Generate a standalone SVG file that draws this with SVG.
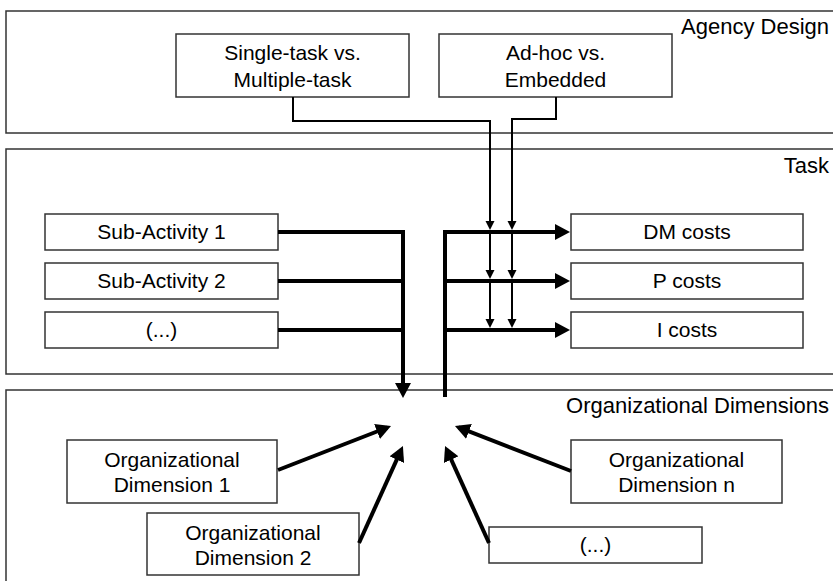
<svg xmlns="http://www.w3.org/2000/svg" width="833" height="581" viewBox="0 0 833 581">
<style>
  .lane { fill: #fff; stroke: #333; stroke-width: 1.5; }
  .box { fill: #fff; stroke: #333; stroke-width: 1.5; }
  .lbl { font-family: "Liberation Sans", Arial, sans-serif; font-size: 21px; fill: #000; text-anchor: middle; }
  .lanelbl { font-family: "Liberation Sans", Arial, sans-serif; font-size: 22px; fill: #000; text-anchor: end; }
  .thick { fill: none; stroke: #000; stroke-width: 4; stroke-linejoin: miter; }
  .thin { fill: none; stroke: #000; stroke-width: 2; stroke-linejoin: miter; }
</style>
<defs>
  <marker id="ah" markerUnits="userSpaceOnUse" markerWidth="16" markerHeight="16" refX="11" refY="8" orient="auto">
    <path d="M0,0 L15,8 L0,16 z" fill="#000"/>
  </marker>
  <marker id="ahs" markerUnits="userSpaceOnUse" markerWidth="10" markerHeight="10" refX="7" refY="4.5" orient="auto">
    <path d="M0,0 L9,4.5 L0,9 z" fill="#000"/>
  </marker>
</defs>
<rect width="833" height="581" fill="#fff"/>

<g id="lane-agency">
  <rect class="lane" x="6" y="11" width="840" height="122"/>
  <text class="lanelbl" x="829" y="34">Agency Design</text>
</g>
<g id="lane-task">
  <rect class="lane" x="6" y="149" width="840" height="225"/>
  <text class="lanelbl" x="829" y="173">Task</text>
</g>
<g id="lane-org">
  <rect class="lane" x="6" y="390" width="840" height="220"/>
  <text class="lanelbl" x="829" y="413">Organizational Dimensions</text>
</g>

<g id="single-task">
  <rect class="box" x="176" y="34" width="233" height="63"/>
  <text class="lbl" x="292.5" y="60">Single-task vs.</text>
  <text class="lbl" x="292.5" y="87">Multiple-task</text>
</g>
<g id="ad-hoc">
  <rect class="box" x="439" y="34" width="233" height="63"/>
  <text class="lbl" x="555.5" y="60">Ad-hoc vs.</text>
  <text class="lbl" x="555.5" y="87">Embedded</text>
</g>

<g id="sub-activity-1">
  <rect class="box" x="45" y="214" width="233" height="36"/>
  <text class="lbl" x="161.5" y="239">Sub-Activity 1</text>
</g>
<g id="sub-activity-2">
  <rect class="box" x="45" y="263" width="233" height="36"/>
  <text class="lbl" x="161.5" y="288">Sub-Activity 2</text>
</g>
<g id="sub-activity-more">
  <rect class="box" x="45" y="312" width="233" height="36"/>
  <text class="lbl" x="161.5" y="337">(...)</text>
</g>

<g id="dm-costs">
  <rect class="box" x="571" y="214" width="232" height="36"/>
  <text class="lbl" x="687" y="239">DM costs</text>
</g>
<g id="p-costs">
  <rect class="box" x="571" y="263" width="232" height="36"/>
  <text class="lbl" x="687" y="288">P costs</text>
</g>
<g id="i-costs">
  <rect class="box" x="571" y="312" width="232" height="36"/>
  <text class="lbl" x="687" y="337">I costs</text>
</g>

<g id="org-dim-1">
  <rect class="box" x="67" y="440" width="210" height="63"/>
  <text class="lbl" x="172" y="467">Organizational</text>
  <text class="lbl" x="172" y="492">Dimension 1</text>
</g>
<g id="org-dim-n">
  <rect class="box" x="571" y="440" width="211" height="63"/>
  <text class="lbl" x="676.5" y="467">Organizational</text>
  <text class="lbl" x="676.5" y="492">Dimension n</text>
</g>
<g id="org-dim-2">
  <rect class="box" x="147" y="513" width="212" height="62"/>
  <text class="lbl" x="253" y="540">Organizational</text>
  <text class="lbl" x="253" y="565">Dimension 2</text>
</g>
<g id="org-dim-more">
  <rect class="box" x="489" y="527" width="213" height="36"/>
  <text class="lbl" x="595.5" y="552">(...)</text>
</g>

<g id="connectors">
  <!-- agency design to costs -->
  <path class="thin" d="M293,97 V121 H490 V228" marker-end="url(#ahs)"/>
  <path class="thin" d="M490,232 V277" marker-end="url(#ahs)"/>
  <path class="thin" d="M490,281 V326" marker-end="url(#ahs)"/>
  <path class="thin" d="M556,97 V119 H512 V228" marker-end="url(#ahs)"/>
  <path class="thin" d="M512,232 V277" marker-end="url(#ahs)"/>
  <path class="thin" d="M512,281 V326" marker-end="url(#ahs)"/>
  <!-- sub-activities down -->
  <path class="thick" d="M278,232 H403 V394" marker-end="url(#ah)"/>
  <path class="thick" d="M278,281 H405"/>
  <path class="thick" d="M278,330 H405"/>
  <!-- up to costs -->
  <path class="thick" d="M445,397 V232 H566" marker-end="url(#ah)"/>
  <path class="thick" d="M443,281 H566" marker-end="url(#ah)"/>
  <path class="thick" d="M443,330 H566" marker-end="url(#ah)"/>
  <!-- organizational dimensions -->
  <path class="thick" d="M278,470 L387.3,427.5" marker-end="url(#ah)"/>
  <path class="thick" d="M359,543 L401.3,449.6" marker-end="url(#ah)"/>
  <path class="thick" d="M489,543 L446.7,449.6" marker-end="url(#ah)"/>
  <path class="thick" d="M571,471 L458.7,427.4" marker-end="url(#ah)"/>
</g>
</svg>
